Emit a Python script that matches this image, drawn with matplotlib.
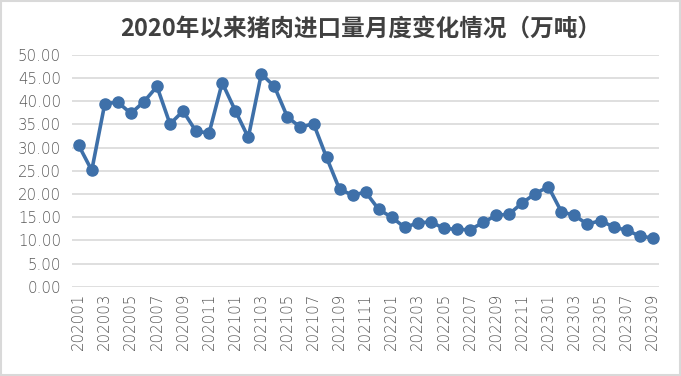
import matplotlib.pyplot as plt
import matplotlib.patches as patches

plt.rcParams['font.family'] = ['Noto Sans CJK SC', 'DejaVu Sans']

# monthly pork imports, 10k tonnes
months = ['202001', '202002', '202003', '202004', '202005', '202006', '202007', '202008', '202009',
          '202010', '202011', '202012', '202101', '202102', '202103', '202104', '202105', '202106',
          '202107', '202108', '202109', '202110', '202111', '202112', '202201', '202202', '202203',
          '202204', '202205', '202206', '202207', '202208', '202209', '202210', '202211', '202212',
          '202301', '202302', '202303', '202304', '202305', '202306', '202307', '202308', '202309']
imports = [30.5, 25.1, 39.5, 39.8, 37.4, 39.9, 43.2, 35.1, 37.9,
           33.5, 33.2, 44.0, 38.0, 32.2, 45.9, 43.2, 36.6, 34.4,
           35.2, 27.9, 21.0, 19.8, 20.4, 16.7, 15.0, 12.8, 13.8,
           14.0, 12.6, 12.4, 12.3, 13.9, 15.4, 15.7, 18.1, 20.1,
           21.6, 16.2, 15.4, 13.5, 14.3, 12.9, 12.2, 11.0, 10.5]

fig = plt.figure(figsize=(6.81, 3.76), dpi=100)
ax = fig.add_axes([0.106, 0.237, 0.862, 0.617])

x = list(range(len(months)))
ax.plot(x, imports, color='#3e70a9', linewidth=2.6, marker='o', markersize=8, zorder=3)

ax.set_ylim(0, 50)
ax.set_yticks([i * 5 for i in range(11)])
ax.set_yticklabels(['%.2f' % (i * 5) for i in range(11)])
ax.set_xlim(-0.5, len(months) - 0.5)
ax.set_xticks(x[::2])
ax.set_xticklabels(months[::2], rotation=90)

ax.grid(axis='y', color='#d9d9d9', linewidth=1.2)
ax.set_axisbelow(True)
for s in ax.spines.values():
    s.set_visible(False)
ax.tick_params(length=0, colors='#595959', labelsize=10.8)
ax.tick_params(axis='y', pad=8)
ax.tick_params(axis='x', pad=4)
for lab in ax.get_xticklabels() + ax.get_yticklabels():
    lab.set_family(['DejaVu Sans'])
    lab.set_fontweight('light')

fig.text(0.529, 0.925, '2020年以来猪肉进口量月度变化情况（万吨）', ha='center', va='center',
         fontsize=17, fontweight='bold', color='#404040')

fig.patches.append(patches.Rectangle((0.002, 0.003), 0.996, 0.994, transform=fig.transFigure,
                                     fill=False, edgecolor='#d9d9d9', linewidth=1.5))

fig.savefig('out.png', dpi=100)
